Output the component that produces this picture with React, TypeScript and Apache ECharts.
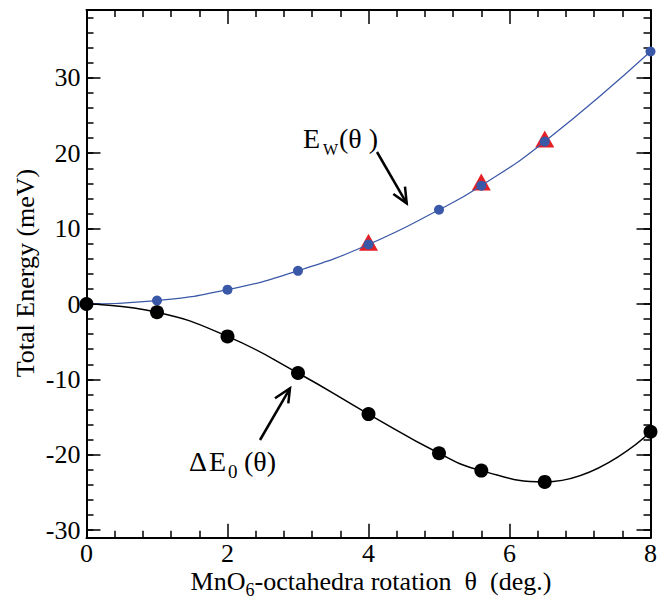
import React, { useEffect, useRef } from "react";
import * as echarts from "echarts";

const FONT = "'Liberation Serif', 'DejaVu Serif', serif";

// Data
const thetaBlue = [0, 1, 2, 3, 4, 5, 5.6, 6.5, 8];
const energyW = [0, 0.45, 1.9, 4.4, 7.9, 12.5, 15.7, 21.55, 33.5];
const thetaBlack = [0, 1, 2, 3, 4, 5, 5.6, 6.5, 8];
const deltaE0 = [0, -1.1, -4.3, -9.15, -14.6, -19.8, -22.1, -23.6, -16.95];
const thetaTri = [4, 5.6, 6.5];
const energyTri = [8.2, 16.2, 21.9];

const yMajorTicks = [-30, -20, -10, 0, 10, 20, 30];
const yMinorTicks = [
  -30, -28, -26, -24, -22, -20, -18, -16, -14, -12, -10, -8, -6, -4, -2, 0, 2,
  4, 6, 8, 10, 12, 14, 16, 18, 20, 22, 24, 26, 28, 30, 32, 34, 36, 38,
];

const xTitleMain1 = "MnO";
const xTitleSub = "6";
const xTitleMain2 = "-octahedra rotation\u00A0\u00A0θ\u00A0\u00A0(deg.)";

function measure(text: string, size: number): number {
  const ctx = document.createElement("canvas").getContext("2d");
  if (!ctx) return text.length * size * 0.5;
  ctx.font = `${size}px "Liberation Serif"`;
  return ctx.measureText(text).width;
}

function txt(text: string, x: number, y: number, size: number, align = "left", lh?: number) {
  return {
    type: "text",
    x,
    y,
    style: {
      text,
      fontSize: size,
      fontFamily: FONT,
      fill: "#000",
      align,
      verticalAlign: "middle",
      lineHeight: lh ?? size,
    },
  };
}

export default function App() {
  const ref = useRef<HTMLDivElement>(null);

  useEffect(() => {
    document.body.style.margin = "0";
    if (!ref.current) return;
    const chart = echarts.init(ref.current, null, { renderer: "svg" });

    const axisLineStyle = { color: "#000", width: 2 };
    const tickStyle = { color: "#000", width: 1.5 };
    const labelStyle = { fontSize: 26, fontFamily: FONT, color: "#000", lineHeight: 20 };

    const xBase = (pos: "bottom" | "top", showLabel: boolean) => ({
      type: "value",
      position: pos,
      min: 0,
      max: 8,
      interval: 2,
      axisLine: { show: true, onZero: false, lineStyle: axisLineStyle },
      axisTick: { show: true, inside: true, length: 14, lineStyle: tickStyle },
      minorTick: { show: true, splitNumber: 5, length: 7, lineStyle: tickStyle },
      axisLabel: { show: showLabel, margin: 6, ...labelStyle },
      splitLine: { show: false },
      minorSplitLine: { show: false },
    });

    const yBase = (
      pos: "left" | "right",
      ticks: number[],
      len: number,
      showLine: boolean,
      showLabel: boolean
    ) => ({
      type: "value",
      position: pos,
      min: -31,
      max: 39,
      axisLine: { show: showLine, onZero: false, lineStyle: axisLineStyle },
      axisTick: {
        show: true,
        inside: true,
        length: len,
        lineStyle: tickStyle,
        customValues: ticks,
      },
      axisLabel: { show: showLabel, customValues: ticks, margin: 6, ...labelStyle },
      splitLine: { show: false },
    });

    const toPairs = (xs: number[], ys: number[]) => xs.map((x, i) => [x, ys[i]]);

    // x-axis title laid out in pieces (subscript 6)
    const w1 = measure(xTitleMain1, 26);
    const w2 = measure(xTitleSub, 18);
    const w3 = measure(xTitleMain2, 26);
    const x0 = 371 - (w1 + w2 + w3) / 2;

    chart.setOption({
      animation: false,
      backgroundColor: "#fff",
      textStyle: { fontFamily: FONT, fontSize: 26, color: "#000" },
      grid: { left: 86.5, right: 5.7, top: 10, bottom: 61.3, containLabel: false },
      xAxis: [xBase("bottom", true), xBase("top", false)],
      yAxis: [
        yBase("left", yMajorTicks, 14, true, true),
        yBase("left", yMinorTicks, 7, false, false),
        yBase("right", yMajorTicks, 14, true, false),
        yBase("right", yMinorTicks, 7, false, false),
      ],
      series: [
        {
          type: "scatter",
          name: "triangles",
          data: toPairs(thetaTri, energyTri),
          symbol: "triangle",
          symbolSize: [19, 17],
          itemStyle: { color: "#e41f26", opacity: 1 },
          z: 3,
        },
        {
          type: "line",
          name: "Ew",
          data: toPairs(thetaBlue, energyW),
          smooth: true,
          symbol: "circle",
          symbolSize: 10,
          itemStyle: { color: "#3a58a8", opacity: 1 },
          lineStyle: { color: "#3a58a8", width: 1.2 },
          z: 4,
        },
        {
          type: "line",
          name: "deltaE0",
          data: toPairs(thetaBlack, deltaE0),
          smooth: true,
          symbol: "circle",
          symbolSize: 14,
          itemStyle: { color: "#000", opacity: 1 },
          lineStyle: { color: "#000", width: 1.5 },
          z: 5,
        },
      ],
      graphic: [
        {
          type: "text",
          x: 25,
          y: 273,
          rotation: Math.PI / 2,
          style: {
            text: "Total Energy (meV)",
            fontSize: 26,
            fontFamily: FONT,
            fill: "#000",
            align: "center",
            verticalAlign: "middle",
            lineHeight: 26,
          },
        },
        // x title
        txt(xTitleMain1, x0, 581, 26, "left", 22),
        txt(xTitleSub, x0 + w1, 590, 18, "left", 16),
        txt(xTitleMain2, x0 + w1 + w2, 581, 26, "left", 22),
        // E_w(θ)
        txt("E", 303, 138, 28),
        txt("W", 323, 149, 16),
        txt("(θ\u00A0)", 339, 138, 28),
        // ΔE_0(θ)
        txt("Δ", 189, 461, 28),
        txt("E", 209, 461, 28),
        txt("0", 228, 471, 19),
        txt("(θ)", 244, 461, 28),
        // arrows
        {
          type: "line",
          shape: { x1: 377, y1: 152, x2: 406.7, y2: 203.3 },
          style: { stroke: "#000", lineWidth: 2.5 },
        },
        {
          type: "polyline",
          shape: { points: [[393.3, 194], [406.7, 203.3], [405, 186.7]] },
          style: { stroke: "#000", lineWidth: 2.5, fill: "none" },
        },
        {
          type: "line",
          shape: { x1: 260, y1: 440, x2: 290, y2: 388.3 },
          style: { stroke: "#000", lineWidth: 2.5 },
        },
        {
          type: "polyline",
          shape: { points: [[275, 398.3], [290, 388.3], [288.3, 403.3]] },
          style: { stroke: "#000", lineWidth: 2.5, fill: "none" },
        },
      ],
    });

    return () => chart.dispose();
  }, []);

  return <div ref={ref} style={{ width: 660, height: 599 }} />;
}
